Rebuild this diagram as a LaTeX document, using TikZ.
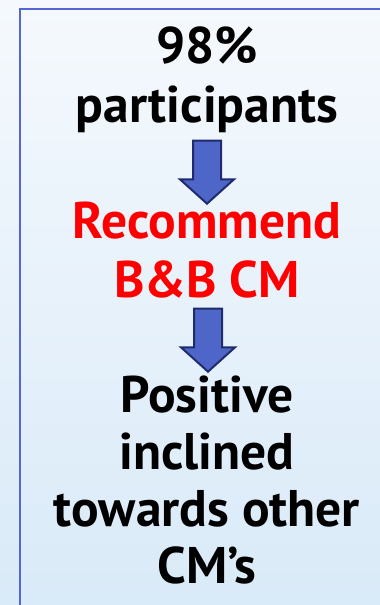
\documentclass[tikz,border=0pt]{standalone}
\usepackage{fontspec}
\setmainfont{PT Sans}
\usetikzlibrary{shapes.arrows}
\definecolor{boxline}{HTML}{5566D2}
\definecolor{arrowfill}{HTML}{4F66C9}
\definecolor{arrowline}{HTML}{1F2B6E}
\definecolor{bgtop}{HTML}{F5F9FD}
\definecolor{bgbottom}{HTML}{D9EAF8}
\definecolor{recred}{HTML}{FF0000}
\tikzset{
    every node/.style={inner sep=0mm, align=center,
        font=\fontsize{51.5}{59}\selectfont\bfseries}
}
\tikzset{
    downarrow/.style={single arrow, draw=arrowline, fill=arrowfill,
        line width=2pt, rotate=-90, minimum height=63pt, minimum width=53pt,
        inner xsep=0pt, inner ysep=13pt, anchor=tip,
        single arrow head extend=13pt, single arrow tip angle=96}
}

\begin{document}
\begin{tikzpicture}[x=1pt, y=-1pt]
    \shade[top color=bgtop, bottom color=bgbottom] (0,0) rectangle (380,605);
    \useasboundingbox (0,0) rectangle (380,605);
    \draw[boxline, line width=2.5pt] (20,605) -- (20,9) -- (380,9);

    \node (share) at (207,122) [anchor=base] {98\%\\participants};
    \node (arr1) at (207,205) [downarrow] {};

    \node (recommend) at (207,297) [anchor=base, text=recred] {Recommend\\B\&B CM};
    \node (arr2) at (208,373) [downarrow] {};

    \node (positive) at (207,583) [anchor=base,
        font=\fontsize{51.5}{57}\selectfont\bfseries]
        {Positive\\inclined\\towards other\\CM’s};
\end{tikzpicture}
\end{document}
